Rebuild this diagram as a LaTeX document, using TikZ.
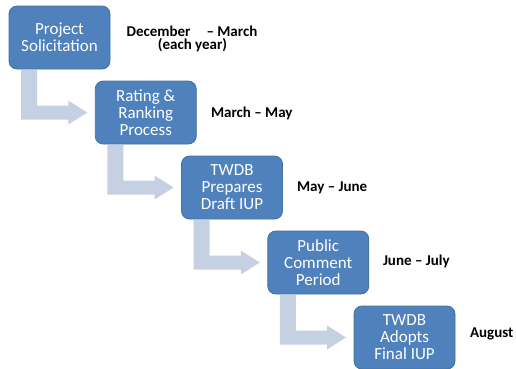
\documentclass[tikz,border=0pt]{standalone}
\usepackage{fontspec}
\setmainfont{Carlito}
\usetikzlibrary{calc}
\definecolor{boxblue}{HTML}{4F81BD}
\definecolor{boxedge}{HTML}{41719C}
\definecolor{arrowblue}{HTML}{C5D1E2}
\tikzset{
  stepbox/.style={draw=boxedge, line width=0.8pt, fill=boxblue, rounded corners=8pt,
    minimum width=101pt, minimum height=63pt, outer sep=0pt, inner sep=2pt,
    align=center, text=white, font=\fontsize{17}{17}\selectfont},
  datelabel/.style={inner sep=0pt, outer sep=0pt, font=\fontsize{15}{14}\selectfont\bfseries, text=black},
  arrowfill/.style={fill=arrowblue}
}
\newcommand\flowarrow[2]{%
  \fill[arrowfill] let \p1=(#1.south west), \p2=(#2.west) in
    (\x1+12pt,\y1-1pt) -- (\x1+28pt,\y1-1pt) -- (\x1+28pt,\y2+7pt) --
    (\x2-27pt,\y2+7pt) -- (\x2-27pt,\y2+12pt) -- (\x2-8pt,\y2) --
    (\x2-27pt,\y2-12pt) -- (\x2-27pt,\y2-7pt) -- (\x1+12pt,\y2-7pt) -- cycle;}
\begin{document}
\begin{tikzpicture}[x=1pt,y=-1pt]
\useasboundingbox (0,0) rectangle (516,368);
\fill[white] (0,0) rectangle (516,368);
\node[stepbox] (b1) at (59.5,37.5) {Project\\Solicitation};
\node[stepbox] (b2) at (145.75,112.5) {Rating \&\\Ranking\\Process};
\node[stepbox] (b3) at (232,187.5) {TWDB\\Prepares\\Draft IUP};
\node[stepbox] (b4) at (318.25,262.5) {Public\\Comment\\Period};
\node[stepbox] (b5) at (404.5,337.5) {TWDB\\Adopts\\Final IUP};
\flowarrow{b1}{b2}
\flowarrow{b2}{b3}
\flowarrow{b3}{b4}
\flowarrow{b4}{b5}
\node[datelabel, anchor=base] (l1) at (192,36) {December\hspace{16pt}–~March};
\node[datelabel, anchor=base] (l1b) at (192.5,49) {(each year)};
\node[datelabel, anchor=base west] (l2) at (211,117) {March – May};
\node[datelabel, anchor=base west] (l3) at (297,191) {May – June};
\node[datelabel, anchor=base west] (l4) at (383,265) {June – July};
\node[datelabel, anchor=base west] (l5) at (470,337) {August};
\end{tikzpicture}
\end{document}
